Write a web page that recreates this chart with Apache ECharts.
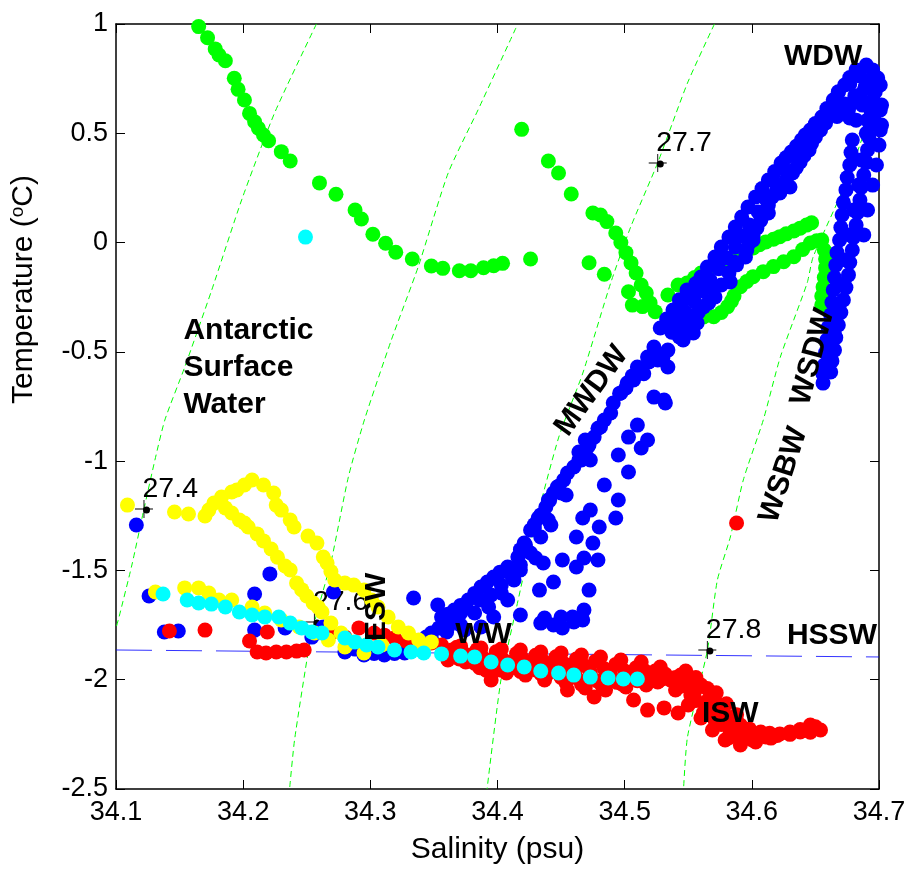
<!DOCTYPE html>
<html>
<head>
<meta charset="utf-8">
<title>T-S diagram</title>
<script src="https://cdn.jsdelivr.net/npm/echarts@6/dist/echarts.min.js"></script>
<style>
  html, body { margin: 0; background: #fff; }
  #chart { width: 911px; height: 871px; }
</style>
</head>
<body>
<div id="chart"></div>
<script>
// isopycnals, [salinity, temperature]
const iso274 = [[34.2576,1.0],[34.2247,0.593],[34.1988,0.195],[34.1753,-0.217],[34.1541,-0.569],[34.1384,-0.812],[34.1306,-0.995],[34.1220,-1.219],[34.1125,-1.475],[34.1024,-1.713],[34.1,-1.763]]
const iso276 = [[34.4145,0.982],[34.3847,0.607],[34.3612,0.318],[34.3376,-0.112],[34.3165,-0.446],[34.2953,-0.812],[34.2827,-1.073],[34.2694,-1.452],[34.2561,-1.736],[34.2514,-1.864],[34.2404,-2.276],[34.2365,-2.5]]
const iso277 = [[34.5706,1.0],[34.5494,0.730],[34.5259,0.364],[34.5047,0.071],[34.4890,-0.185],[34.4671,-0.597],[34.4482,-0.890],[34.4286,-1.315],[34.4145,-1.681],[34.4027,-2.001],[34.3918,-2.5]]
const iso278 = [[34.7,0.698],[34.6749,0.286],[34.6482,-0.066],[34.6435,-0.185],[34.6224,-0.524],[34.609,-0.812],[34.5933,-1.086],[34.5831,-1.347],[34.5729,-1.544],[34.5651,-1.864],[34.5494,-2.262],[34.5463,-2.5]]
const hssw = [[34.1,-1.864],[34.7,-1.896]]

// labelled points on the isopycnals
const densS = [34.122, 34.256, 34.526, 34.565]
const densT = [-1.219, -1.736, 0.364, -1.864]
const densLabel = ['27.4', '27.6', '27.7', '27.8']

// water mass names
const annoText = ['WDW', 'Antarctic\nSurface\nWater', 'MWDW', 'WSDW', 'WSBW', 'ESW', 'WW', 'ISW', 'HSSW']
const annoS = [34.656, 34.153, 34.474, 34.648, 34.625, 34.305, 34.389, 34.583, 34.663]
const annoT = [0.849, -0.574, -0.679, -0.524, -1.063, -1.667, -1.795, -2.157, -1.800]

const green = [
  [34.165,0.988],[34.172,0.937],[34.178,0.886],[34.181,0.858],[34.186,0.832],[34.193,0.752],[34.196,0.701],[34.201,0.652],[34.205,0.591],[34.209,0.553],[34.212,0.523],[34.216,0.492],[34.220,0.466],[34.230,0.416],[34.237,0.373],[34.260,0.273],[34.273,0.221],[34.288,0.149],[34.293,0.108],[34.302,0.038],[34.312,-0.003],[34.320,-0.044],[34.333,-0.075],[34.348,-0.107],[34.357,-0.118],[34.370,-0.129],[34.379,-0.129],[34.389,-0.115],[34.397,-0.106],[34.404,-0.095],[34.426,-0.075],
  [34.419,0.518],[34.440,0.373],[34.448,0.318],[34.458,0.222],[34.475,0.135],[34.481,0.126],[34.486,0.096],[34.493,0.044],[34.497,0.000],[34.501,-0.046],[34.505,-0.093],[34.509,-0.139],[34.513,-0.194],[34.517,-0.231],[34.520,-0.276],[34.524,-0.316],[34.472,-0.092],[34.484,-0.145],[34.503,-0.225],[34.506,-0.286],[34.514,-0.293],
  [34.534,-0.240],[34.542,-0.194],[34.549,-0.185],[34.555,-0.160],[34.560,-0.139],[34.565,-0.125],[34.570,-0.107],[34.575,-0.095],[34.581,-0.080],[34.586,-0.065],[34.591,-0.048],[34.596,-0.037],[34.601,-0.025],[34.606,-0.010],[34.611,0.003],[34.617,0.015],[34.622,0.027],[34.627,0.040],[34.633,0.053],[34.638,0.066],[34.643,0.080],[34.647,0.091],
  [34.538,-0.345],[34.546,-0.342],[34.554,-0.339],[34.562,-0.340],[34.570,-0.339],[34.576,-0.320],[34.581,-0.293],[34.584,-0.268],[34.586,-0.244],[34.591,-0.202],[34.596,-0.178],[34.601,-0.156],[34.609,-0.133],[34.617,-0.110],[34.625,-0.088],[34.633,-0.065],[34.640,-0.032],[34.646,-0.002],[34.651,0.008],[34.655,0.012],[34.657,-0.034],[34.658,-0.075],[34.658,-0.116],[34.657,-0.160],[34.656,-0.203],[34.655,-0.245],[34.655,-0.286]
]

const blueDeep = [
  [34.682,0.790],[34.673,0.721],[34.664,0.652],[34.655,0.574],[34.646,0.515],[34.639,0.469],[34.631,0.414],[34.623,0.364],[34.613,0.286],[34.603,0.209],[34.592,0.117],[34.582,0.025],[34.571,-0.066],[34.560,-0.158],[34.553,-0.217],[34.545,-0.277],[34.540,-0.322],[34.535,-0.368],
  [34.677,0.755],[34.668,0.687],[34.659,0.613],[34.650,0.545],[34.642,0.492],[34.635,0.441],[34.627,0.389],[34.618,0.325],[34.608,0.247],[34.597,0.163],[34.587,0.071],[34.576,-0.020],[34.565,-0.112],[34.556,-0.187],[34.549,-0.247],[34.542,-0.300],
  [34.693,0.744],[34.685,0.675],[34.676,0.607],[34.658,0.547],[34.650,0.483],[34.645,0.424],[34.638,0.369],[34.632,0.318],[34.622,0.254],[34.616,0.209],[34.611,0.135],[34.604,0.067],[34.598,-0.002],[34.595,-0.066],[34.582,-0.139],[34.571,-0.249],[34.562,-0.295],[34.553,-0.341],[34.543,-0.432],
  [34.689,0.710],[34.680,0.641],[34.667,0.577],[34.654,0.515],[34.647,0.454],[34.641,0.397],[34.635,0.343],[34.627,0.286],[34.619,0.231],[34.613,0.172],[34.607,0.101],[34.601,0.032],[34.596,-0.034],[34.588,-0.102],[34.576,-0.194],[34.566,-0.272],[34.558,-0.318],[34.548,-0.386],
  [34.668,0.690],[34.660,0.600],[34.650,0.540],[34.642,0.470],[34.634,0.400],[34.627,0.330],[34.619,0.270],[34.611,0.200],[34.605,0.140],[34.598,0.080],[34.592,0.030],[34.587,-0.020],[34.580,-0.070],[34.574,-0.120],[34.567,-0.170],[34.561,-0.220],[34.555,-0.270],[34.548,-0.320],[34.542,-0.370],[34.537,-0.410],
  [34.690,0.812],[34.695,0.790],[34.699,0.753],[34.685,0.762],[34.677,0.725],[34.697,0.689],[34.689,0.707],[34.681,0.671],[34.673,0.634],[34.687,0.629],[34.677,0.570],[34.668,0.597],[34.691,0.561],[34.701,0.607],[34.701,0.515],
  [34.679,0.469],[34.677,0.355],[34.674,0.241],[34.671,0.126],[34.669,0.012],[34.666,-0.103],[34.664,-0.217],[34.662,-0.331],[34.659,-0.446],[34.657,-0.560],[34.656,-0.643],
  [34.678,0.412],[34.675,0.298],[34.672,0.184],[34.670,0.069],[34.667,-0.046],[34.665,-0.160],[34.663,-0.274],[34.660,-0.389],[34.658,-0.503],[34.656,-0.602],
  [34.686,0.378],[34.684,0.263],[34.680,0.149],[34.677,0.035],[34.674,-0.080],[34.671,-0.194],[34.668,-0.309],[34.665,-0.423],[34.662,-0.528],
  [34.695,0.652],[34.693,0.538],[34.691,0.424],[34.688,0.309],[34.685,0.195],[34.682,0.080],[34.679,-0.034],[34.676,-0.148],[34.672,-0.263],[34.668,-0.377],[34.665,-0.492],[34.662,-0.592],
  [34.694,0.595],[34.692,0.481],[34.690,0.367],[34.686,0.252],[34.683,0.137],[34.680,0.023],[34.677,-0.091],[34.674,-0.206],[34.670,-0.320],[34.666,-0.435],[34.663,-0.542],
  [34.701,0.721],[34.702,0.629],[34.702,0.538],[34.700,0.446],[34.698,0.355],[34.695,0.263],[34.691,0.149],[34.688,0.035],[34.682,0.560],[34.690,0.500],[34.696,0.580],
  [34.630,0.254],[34.622,0.227],[34.613,0.135],[34.601,0.012],[34.586,-0.089],[34.583,-0.180],[34.570,-0.203],[34.566,-0.276],[34.554,-0.368],[34.554,-0.414],[34.549,-0.354],[34.557,-0.368],[34.546,-0.446],[34.534,-0.569],[34.523,-0.707],[34.532,-0.734]
]

const blueMwdw = [
  [34.549,-0.217],[34.538,-0.309],[34.528,-0.391],[34.523,-0.478],[34.518,-0.524],[34.510,-0.569],[34.502,-0.643],[34.491,-0.734],[34.484,-0.812],[34.476,-0.890],[34.468,-0.963],[34.460,-1.027],[34.452,-1.086],[34.444,-1.146],[34.438,-1.210],[34.432,-1.260],[34.426,-1.315],[34.421,-1.375],[34.416,-1.439],[34.408,-1.484],[34.397,-1.530],[34.387,-1.576],[34.377,-1.635],[34.366,-1.681],[34.356,-1.713],
  [34.534,-0.492],[34.526,-0.537],[34.507,-0.629],[34.497,-0.688],[34.489,-0.780],[34.481,-0.844],[34.471,-0.935],[34.466,-0.995],[34.455,-1.054],[34.450,-1.146],[34.440,-1.269],[34.434,-1.347],[34.426,-1.420],[34.418,-1.498],[34.413,-1.544],[34.403,-1.603],[34.393,-1.667],[34.382,-1.695],[34.371,-1.750],[34.360,-1.782],[34.348,-1.809],
  [34.543,-0.262],[34.533,-0.350],[34.515,-0.600],[34.496,-0.690],[34.479,-0.850],[34.472,-0.925],[34.464,-0.995],[34.448,-1.115],[34.441,-1.180],[34.429,-1.290],[34.418,-1.405],[34.402,-1.508],[34.392,-1.553],[34.382,-1.605],[34.371,-1.660],[34.361,-1.700],
  [34.524,-0.501],[34.530,-0.528],[34.519,-0.546],[34.501,-0.665],[34.506,-0.610],[34.464,-0.958],[34.473,-0.995],[34.469,-0.903],[34.447,-1.118],[34.454,-1.155],[34.440,-1.178],[34.434,-1.246],[34.442,-1.292],[34.429,-1.306],[34.422,-1.384],[34.430,-1.443],[34.418,-1.475],[34.411,-1.521],[34.403,-1.567],[34.395,-1.612],[34.386,-1.635],[34.375,-1.672],[34.365,-1.727],[34.354,-1.763],[34.344,-1.805],
  [34.531,-0.720],[34.510,-0.835],[34.503,-0.890],[34.518,-0.903],[34.513,-0.940],[34.495,-0.972],[34.503,-1.050],[34.484,-1.109],[34.495,-1.178],[34.473,-1.224],[34.467,-1.260],[34.493,-1.260],[34.480,-1.301],[34.462,-1.347],[34.475,-1.375],[34.468,-1.443],[34.479,-1.452],[34.451,-1.452],[34.462,-1.484],[34.436,-1.466],[34.444,-1.553],[34.433,-1.590],[34.472,-1.590],[34.468,-1.681],[34.450,-1.713],[34.459,-1.713],[34.437,-1.718],[34.418,-1.704],[34.460,-1.736],[34.467,-1.727],[34.451,-1.763],[34.444,-1.750],[34.434,-1.741],[34.397,-1.713],[34.387,-1.759],[34.374,-1.773],[34.361,-1.759],[34.408,-1.635],[34.334,-1.626],[34.353,-1.658],[34.371,-1.695],[34.348,-1.786]
]

const blueShelf = [
  [34.116,-1.292],[34.221,-1.516],[34.209,-1.608],[34.126,-1.617],[34.138,-1.782],[34.149,-1.777],[34.209,-1.773],[34.271,-1.599],[34.254,-1.805],[34.263,-1.759],[34.233,-1.763],[34.280,-1.873],[34.295,-1.887],[34.311,-1.887],[34.327,-1.878],[34.340,-1.864],[34.288,-1.860],[34.303,-1.880],[34.319,-1.880]
]

const redIsw = [
  [34.356,-1.841],[34.371,-1.846],[34.387,-1.855],[34.403,-1.860],[34.418,-1.864],[34.434,-1.873],[34.450,-1.878],[34.466,-1.887],[34.481,-1.896],[34.497,-1.910],[34.513,-1.919],[34.528,-1.942],[34.544,-1.979],[34.560,-2.024],[34.569,-2.070],[34.574,-2.116],[34.579,-2.162],[34.591,-2.207],[34.607,-2.239],[34.622,-2.248],[34.638,-2.239],[34.654,-2.230],
  [34.368,-1.852],[34.384,-1.862],[34.399,-1.872],[34.415,-1.880],[34.430,-1.888],[34.446,-1.895],[34.462,-1.905],[34.477,-1.915],[34.493,-1.930],[34.509,-1.945],[34.524,-1.960],[34.540,-1.990],[34.548,-2.010],[34.556,-2.045],[34.566,-2.090],[34.575,-2.140],[34.585,-2.190],[34.598,-2.225],[34.614,-2.245],[34.630,-2.250],[34.646,-2.240],
  [34.364,-1.864],[34.379,-1.887],[34.395,-1.910],[34.411,-1.919],[34.426,-1.924],[34.442,-1.933],[34.458,-1.947],[34.473,-1.965],[34.489,-1.979],[34.505,-1.979],[34.520,-1.979],[34.536,-2.001],[34.552,-2.070],[34.564,-2.116],[34.571,-2.184],[34.583,-2.239],[34.595,-2.267],[34.611,-2.262],
  [34.372,-1.870],[34.388,-1.895],[34.404,-1.905],[34.420,-1.905],[34.436,-1.915],[34.452,-1.925],[34.468,-1.935],[34.484,-1.950],[34.500,-1.960],[34.516,-1.960],[34.532,-1.975],
  [34.366,-1.890],[34.382,-1.925],[34.398,-1.935],[34.414,-1.945],[34.430,-1.955],[34.446,-1.965],[34.462,-1.990],[34.478,-2.005],[34.494,-2.012],[34.510,-2.005],[34.526,-2.010],[34.544,-2.030],[34.556,-2.095],[34.566,-2.150],[34.576,-2.205],[34.588,-2.260],[34.600,-2.275],[34.620,-2.255],[34.638,-2.228],[34.650,-2.215],
  [34.370,-1.905],[34.386,-1.945],[34.402,-1.955],[34.418,-1.962],[34.434,-1.972],[34.450,-1.990],[34.466,-2.020],[34.482,-2.025],[34.498,-2.020],[34.514,-2.000],
  [34.360,-1.878],[34.375,-1.919],[34.391,-1.956],[34.407,-1.969],[34.422,-1.979],[34.438,-1.983],[34.454,-2.015],[34.469,-2.038],[34.485,-2.047],[34.501,-2.033],[34.517,-2.024],[34.528,-2.001],[34.540,-2.047],[34.550,-2.116],[34.560,-2.175],[34.569,-2.230],[34.579,-2.276],[34.591,-2.299],[34.603,-2.285],[34.615,-2.267],[34.630,-2.239],[34.646,-2.207],
  [34.548,-1.960],[34.556,-1.990],[34.565,-2.040],[34.572,-2.060],[34.580,-2.110],[34.588,-2.160],[34.562,-2.150],[34.572,-2.200],[34.582,-2.265],[34.595,-2.240],[34.605,-2.250],
  [34.476,-2.079],[34.507,-2.093],[34.518,-2.139],[34.531,-2.129],[34.542,-2.152],[34.361,-1.910],[34.395,-2.001],[34.437,-2.001],[34.455,-2.047]
]

const redShelf = [
  [34.142,-1.777],[34.170,-1.773],[34.205,-1.823],[34.219,-1.782],[34.211,-1.873],[34.218,-1.878],[34.226,-1.873],[34.234,-1.873],[34.242,-1.869],[34.248,-1.864],[34.269,-1.786],[34.280,-1.805],[34.291,-1.763],[34.303,-1.786],[34.311,-1.796],[34.319,-1.809],[34.328,-1.823],[34.338,-1.832],[34.348,-1.832],
  [34.588,-1.283]
]

const yellow = [
  [34.109,-1.201],[34.131,-1.599],[34.146,-1.233],[34.157,-1.242],[34.170,-1.251],[34.173,-1.224],[34.177,-1.192],[34.183,-1.164],[34.191,-1.141],[34.195,-1.132],[34.201,-1.109],
  [34.186,-1.214],[34.191,-1.237],[34.197,-1.269],[34.201,-1.283],[34.204,-1.301],[34.211,-1.333],[34.216,-1.365],[34.222,-1.402],[34.227,-1.440],[34.233,-1.480],[34.237,-1.498],[34.242,-1.558],[34.246,-1.588],[34.250,-1.617],[34.255,-1.649],[34.259,-1.668],[34.262,-1.690],[34.269,-1.741],[34.277,-1.786],[34.285,-1.827],[34.297,-1.841],[34.309,-1.841],
  [34.207,-1.086],[34.216,-1.109],[34.224,-1.146],[34.226,-1.201],[34.230,-1.224],[34.237,-1.269],[34.240,-1.301],[34.251,-1.343],[34.258,-1.375],[34.263,-1.439],[34.266,-1.466],[34.269,-1.505],[34.272,-1.544],[34.280,-1.558],[34.287,-1.567],[34.295,-1.590],[34.301,-1.635],[34.306,-1.667],[34.314,-1.713],[34.322,-1.759],[34.330,-1.786],[34.338,-1.818],[34.342,-1.850],[34.348,-1.827],
  [34.154,-1.580],[34.165,-1.580],[34.173,-1.603],[34.181,-1.635],[34.191,-1.635],[34.207,-1.667],[34.217,-1.695],[34.230,-1.727],[34.244,-1.759],[34.256,-1.786],[34.267,-1.818],[34.280,-1.850],[34.295,-1.878]
]

const cyan = [
  [34.249,0.025],
  [34.137,-1.608],[34.156,-1.635],[34.165,-1.649],[34.175,-1.654],[34.186,-1.667],[34.197,-1.690],[34.207,-1.704],[34.217,-1.713],[34.228,-1.713],[34.237,-1.741],[34.246,-1.763],[34.254,-1.782],[34.262,-1.786],[34.280,-1.809],[34.288,-1.827],[34.297,-1.841],[34.306,-1.850],[34.319,-1.864],[34.332,-1.873],[34.342,-1.878],[34.356,-1.882],[34.371,-1.892],[34.382,-1.896],[34.395,-1.919],[34.408,-1.933],[34.421,-1.942],[34.434,-1.960],[34.448,-1.969],[34.460,-1.979],[34.473,-1.988],[34.487,-1.992],[34.499,-1.997],[34.510,-1.997]
]

const FONT = '"Liberation Sans", Arial, Helvetica, sans-serif'
const chart = echarts.init(document.getElementById('chart'))

const dots = (data, color) => ({
  type: 'scatter', data, symbolSize: 15, clip: false, silent: true,
  itemStyle: { color, opacity: 1 }, z: 3
})
const iso = data => ({
  type: 'line', data, symbol: 'none', smooth: 0.2, silent: true, z: 1,
  lineStyle: { color: '#00ff00', width: 1, type: [6, 4] }
})
const frame = (pos, extra) => Object.assign({
  type: 'value', position: pos,
  axisLine: { show: true, onZero: false, lineStyle: { color: '#000', width: 1.5 } },
  axisTick: { show: true, inside: true, length: 9, lineStyle: { color: '#000', width: 1 } },
  splitLine: { show: false },
  axisLabel: { show: false }
}, extra)

chart.setOption({
  animation: false,
  backgroundColor: '#fff',
  grid: { left: 114, top: 24, width: 765, height: 765 },
  xAxis: [
    frame('bottom', {
      min: 34.1, max: 34.7, interval: 0.1,
      axisLabel: { show: true, fontSize: 27, color: '#000', fontFamily: FONT, margin: 10, formatter: v => v.toFixed(1) },
      name: 'Salinity (psu)', nameLocation: 'middle', nameGap: 46,
      nameTextStyle: { fontSize: 30, color: '#000', fontFamily: FONT }
    }),
    frame('top', { min: 34.1, max: 34.7, interval: 0.1 })
  ],
  yAxis: [
    frame('left', {
      min: -2.5, max: 1, interval: 0.5,
      axisLabel: { show: true, fontSize: 27, color: '#000', fontFamily: FONT, margin: 8 },
      name: 'Temperature ({s|o}C)', nameLocation: 'middle', nameGap: 76,
      nameTextStyle: { fontSize: 30, color: '#000', fontFamily: FONT, padding: [0, 0, 0, 234],
        rich: { s: { fontSize: 19, color: '#000', fontFamily: FONT, padding: [0, 0, 13, 0] } } }
    }),
    frame('right', { min: -2.5, max: 1, interval: 0.5 })
  ],
  series: [
    iso(iso274), iso(iso276), iso(iso277), iso(iso278),
    {
      type: 'scatter', silent: true, z: 2, symbol: 'path://M0,9.5H20V10.5H0Z M9.5,0H10.5V20H9.5Z', symbolSize: 18,
      itemStyle: { color: '#000', opacity: 1 },
      data: densS.map((s, i) => [s, densT[i]])
    },
    {
      type: 'scatter', silent: true, z: 2, symbolSize: 7,
      itemStyle: { color: '#000', opacity: 1 },
      data: densS.map((s, i) => [s + 0.002, densT[i] - 0.005]),
      label: {
        show: true, position: 'top', align: 'left', distance: 3, offset: [-4, 0],
        formatter: p => densLabel[p.dataIndex],
        fontSize: 28.5, color: '#000', textBorderWidth: 0, fontFamily: FONT
      }
    },
    dots(green, '#00ff00'),
    dots(blueDeep, '#0000ff'),
    dots(blueMwdw, '#0000ff'),
    dots(blueShelf, '#0000ff'),
    dots(redIsw, '#ff0000'),
    dots(redShelf, '#ff0000'),
    {
      type: 'line', data: hssw, symbol: 'none', silent: true, z: 3,
      lineStyle: { color: '#0000ff', width: 1, type: [36, 14], opacity: 0.8 }
    },
    dots(yellow, '#ffff00'),
    dots(cyan, '#00ffff'),
    {
      type: 'scatter', silent: true, z: 6, symbolSize: 0,
      itemStyle: { opacity: 1 },
      data: annoText.map((t, i) => ({
        value: [annoS[i], annoT[i]],
        label: {
          rotate: [0, 0, 54, 75, 72, 90, 0, 0, 0][i],
          align: i === 1 ? 'left' : 'center'
        }
      })),
      label: {
        show: true, position: 'inside', verticalAlign: 'middle',
        formatter: p => annoText[p.dataIndex],
        fontSize: 30, fontWeight: 'bold', lineHeight: 37, color: '#000',
        textBorderWidth: 0, fontFamily: FONT
      }
    }
  ]
})
</script>
</body>
</html>
